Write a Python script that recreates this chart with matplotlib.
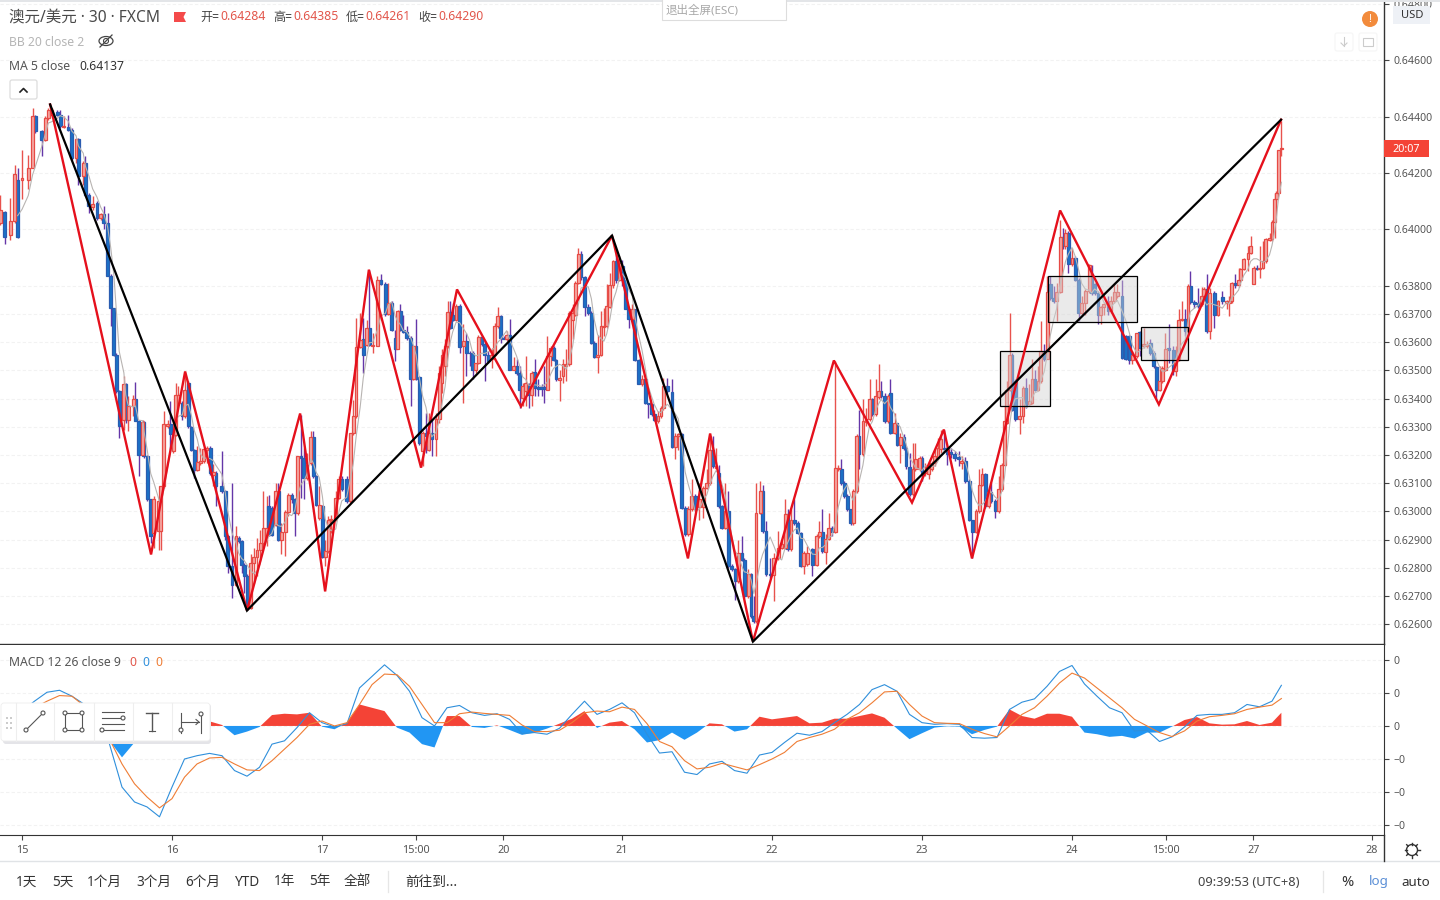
import numpy as np
import matplotlib
matplotlib.use('Agg')
import matplotlib.pyplot as plt
from matplotlib.patches import Rectangle, FancyBboxPatch, Circle, Ellipse, Polygon

plt.rcParams['font.family'] = ['Noto Sans', 'Noto Sans CJK SC', 'DejaVu Sans']

# candle values in price points (64400 = 0.64400), position in 30 min bars after the 15th
pos_a = [-7.0,-5.6,-3.8,-2.3,-1.4,0,2.0,3.4,4.3,6.3,
7.4,8.4,9.5,11.3,12.2,13.4,14.8,15.9,17.3,18.0,
19.6,20.3,21.4,22.6,24.0,25.2,26.1,27.4,28.4,29.4,
30.2,31.1,32.6,33.2,34.0,35.6,36.3,37.3,38.6,39.0,
40.1,41.2,42.2,43.7,44.4,45.4,46.6,47.4,48.4,49.2,
50.0,51.3,52.0,53.2,54.2,55.1,56.1,57.1,58.1,59.1,
60.2,61.2,62.1,63.9,65.0,65.8,67.2,68.5,69.3,70.3,
71.1,72.1,73.2,74.2,75.2,76.2,77.2,78.3,78.9,79.9,
81.2,82.0,83.0,84.2,85.2,86.3,87.3,88.2,89.3,90.2,
91.2,92.4,93.2,94.1,95.1,96.1,97.0,98.0,98.8,100.4,
101.3,102.3,103.9,105.0,106.0,106.9,108.2,109.2,110.3,111.1,
112.2,113.7,114.8,116.3,117.2,118.3,119.4,120.2,121.1,122.0,
123.1,124.4,125.2,126.1,127.1,128.2,129.3,130.2]
dirs_a = "RBRRBRRRBB RRRBBRBBRB RBBRBRBBBB BBRBRRBBRB BBRRRRRBRR RBRBBBRRRR BRBBBBBRBB BBRRRRRRBB RBRRRBBRBB RRBBRBRRRR RBBRRRRBRB RRBBRBBRBB BBRBBRBR"
top_a = [64070,64060,64029,64198,64176,64181,64218,64401,64401,64348,
64395,64425,64425,64415,64407,64368,64363,64354,64321,64321,
64235,64235,64123,64091,64094,64055,64055,64023,63834,63721,
63556,63426,63452,63452,63373,63399,63399,63319,63316,63316,
63198,63042,63042,63036,63089,63308,63311,63308,63272,63414,
63414,63384,63432,63455,63298,63219,63174,63178,63221,63225,
63225,63139,63136,63091,63071,62912,62805,62912,62906,62894,
62811,62770,62817,62838,62864,62888,62941,62941,63020,63012,
63071,63071,62926,62997,63059,63059,63042,63195,63195,63189,
63166,63264,63264,63124,63024,63020,62858,62968,62973,63048,
63115,63115,63115,63278,63337,63583,63609,63611,63650,63650,
63591,63822,63822,63808,63739,63739,63615,63709,63709,63644,
63636,63615,63585,63585,63477,63278,63278,63278]
bot_a = [64023,63973,63981,64029,63973,64174,64176,64218,64348,64316,
64318,64395,64407,64407,64365,64363,64354,64253,64253,64188,
64188,64123,64082,64079,64040,64040,64023,63834,63721,63556,
63426,63302,63325,63325,63325,63373,63319,63201,63201,63198,
63042,62912,62923,62929,62929,63089,63302,63274,63213,63272,
63384,63337,63337,63302,63219,63148,63148,63172,63178,63219,
63136,63130,63091,63071,62912,62805,62740,62740,62894,62811,
62770,62657,62657,62817,62838,62864,62888,62912,62917,62917,
62953,62900,62900,62926,62997,63042,62994,62994,63189,63118,
63118,63172,63124,63024,62977,62838,62838,62858,62968,62973,
63048,63079,63036,63036,63278,63337,63583,63556,63591,63591,
63585,63588,63808,63701,63701,63644,63576,63576,63644,63636,
63615,63469,63469,63469,63243,63213,63266,63219]
high_a = [64123,64064,64111,64230,64218,64283,64265,64430,64407,64354,
64401,64430,64430,64425,64425,64401,64407,64360,64324,64324,
64241,64259,64129,64117,64099,64058,64082,64058,63840,63721,
63562,63432,63479,63455,63408,63414,63458,63325,63325,63319,
63201,63042,63053,63053,63089,63355,63325,63390,63325,63455,
63443,63390,63479,63461,63302,63221,63231,63225,63225,63231,
63231,63169,63142,63213,63077,62917,63101,62947,62912,62900,
62817,62776,62847,62870,62906,62935,63071,63053,63059,63018,
63101,63101,62959,63006,63065,63065,63048,63195,63343,63225,
63207,63284,63284,63130,63089,63024,62900,62983,62988,63071,
63124,63124,63124,63278,63396,63686,63703,63686,63680,63857,
63633,63834,63840,63812,63810,63745,63644,63715,63737,63698,
63656,63621,63591,63682,63479,63284,63349,63349]
low_a = [64017,63949,63964,64023,63969,64108,64143,64218,64342,64259,
64312,64389,64401,64401,64360,64360,64348,64247,64235,64159,
64159,64117,64058,64070,64034,64034,64000,63834,63656,63550,
63420,63260,63290,63313,63284,63337,63319,63124,63195,63189,
63036,62888,62870,62864,62864,63083,63296,63219,63207,63266,
63378,63325,63331,63296,63213,63118,63142,63166,63172,63172,
63130,63089,63018,63065,62900,62782,62693,62734,62888,62782,
62711,62652,62652,62746,62770,62829,62870,62876,62912,62912,
62947,62894,62847,62841,62983,63030,62912,62988,63048,63042,
63112,63166,63118,63018,62971,62835,62805,62852,62923,62965,
63042,63071,63030,63030,63272,63331,63579,63491,63585,63585,
63562,63585,63804,63692,63698,63639,63532,63574,63639,63633,
63609,63373,63467,63467,63237,63160,63207,63213]

pos_b = [131.1,132.5,133.5,134.4,135.4,136.2,137.0,137.8,138.9,140.0,
141.2,142.2,143.2,144.2,145.2,146.0,147.1,148.1,149.2,150.3,
151.2,152.2,153.2,154.2,155.1,156.0,157.4,158.3,159.3,160.2,
161.2,162.1,163.1,164.1,165.2,166.3,167.1,168.1,169.2,170.1,
170.9,172.0,173.1,174.1,175.1,176.2,177.1,178.0,178.9,180.0,
181.2,182.2,183.1,184.2,185.3,186.2,187.1,188.1,189.1,190.1,
191.1,192.1,193.2,194.2,195.3,196.0,197.4,198.4,199.4,200.4,
201.5,202.3,203.5,204.5,205.2,206.5,208.0,209.0,210.0,211.1,
212.2,213.2,214.3,215.4,216.7,218.0,219.1,220.0,221.0,222.1,
222.9,223.9,225.0,226.0,227.1,228.2,229.2,230.3,231.1,232.4,
233.3,234.2,234.9,236.2,237.0,238.1,239.4,240.6,242.0,243.1,
244.2,245.0,246.1,247.1,248.2,249.2,250.2,251.3,252.9,254.3,
255.1,256.1,257.2,258.1,259.1,260.2,261.2,262.2,263.1,264.1,
265.2,266.0,267.1,267.8]
dirs_b = "BRRRRRBBRB RBBBRRBBBR RRBBRBRBBR RBRBBBBRRB BRRRRRRRBB BBBRRRRRRB RBBBRBBRBB BBRRRBBRRB BRRBRRRRBR BBRBBBRBBR BBRRBBBRRR RBRBBBRRBR RBRRBRRBBB BRRB"
top_b = [63279,63328,63491,63556,63586,63706,63706,63698,63728,63730,
63604,63604,63562,63562,63527,63619,63619,63595,63556,63556,
63657,63692,63692,63615,63627,63624,63515,63515,63491,63444,
63456,63453,63491,63494,63440,63442,63442,63550,63580,63580,
63536,63474,63521,63521,63704,63704,63810,63911,63911,63832,
63725,63704,63598,63556,63657,63657,63728,63801,63887,63887,
63881,63870,63822,63718,63716,63716,63536,63470,63470,63383,
63379,63344,63338,63367,63446,63446,63423,63267,63273,63273,
63013,63007,63056,63056,63044,63083,63101,63219,63219,63160,
63137,63018,63001,63001,62806,62794,62853,62853,62829,62776,
62776,62628,62995,63072,63072,62930,62776,62835,62871,62883,
62989,62989,62971,62971,62959,62922,62853,62853,62867,62912,
62926,62926,62903,62942,62942,63154,63154,63151,63101,63054,
63007,63072,63267,63267]
bot_b = [63255,63255,63326,63456,63515,63586,63651,63680,63680,63583,
63588,63562,63560,63503,63503,63527,63595,63556,63533,63539,
63556,63657,63615,63612,63612,63503,63503,63491,63432,63403,
63426,63414,63414,63438,63435,63435,63435,63432,63550,63536,
63468,63465,63479,63515,63521,63680,63698,63810,63832,63725,
63704,63598,63548,63548,63556,63654,63657,63725,63801,63820,
63820,63822,63718,63683,63683,63536,63453,63453,63383,63379,
63344,63323,63320,63338,63367,63426,63229,63229,63267,63013,
62918,62918,63007,63007,63016,63016,63083,63101,63160,63154,
63018,62942,62942,62806,62794,62753,62753,62829,62699,62699,
62628,62611,62611,62995,62930,62776,62773,62773,62835,62871,
62871,62865,62865,62959,62922,62806,62806,62812,62808,62808,
62912,62859,62855,62903,62926,62926,63151,63101,63054,63007,
62959,62959,63072,63202]
high_b = [63326,63349,63515,63574,63610,63745,63745,63739,63734,63734,
63663,63633,63568,63568,63527,63627,63621,63604,63568,63580,
63669,63725,63698,63621,63639,63683,63548,63539,63515,63456,
63550,63456,63497,63539,63468,63450,63515,63621,63588,63586,
63539,63503,63539,63574,63710,63734,63816,63935,63923,63834,
63734,63710,63604,63627,63710,63722,63805,63846,63893,63923,
63905,63893,63828,63722,63734,63718,63541,63485,63474,63385,
63379,63361,63355,63373,63474,63474,63470,63279,63279,63279,
63018,63018,63113,63063,63101,63089,63149,63267,63267,63225,
63166,63024,63101,63072,62812,62800,62900,62912,62835,62794,
62782,62699,63101,63107,63095,62965,62835,62853,62930,62900,
63042,63007,63007,63042,62965,62926,62859,62877,62871,62918,
62965,63007,62918,62995,62948,63533,63166,63184,63107,63060,
63009,63078,63273,63361]
low_b = [63196,63196,63314,63420,63479,63580,63645,63674,63674,63562,
63385,63479,63515,63468,63491,63521,63586,63462,63527,63509,
63550,63651,63598,63610,63604,63501,63501,63485,63367,63373,
63373,63367,63373,63409,63409,63409,63385,63430,63515,63533,
63462,63391,63456,63462,63515,63610,63692,63805,63822,63692,
63698,63592,63544,63489,63550,63621,63651,63722,63793,63810,
63816,63799,63716,63651,63680,63533,63450,63444,63379,63332,
63338,63320,63314,63332,63361,63420,63225,63184,63219,63007,
62912,62912,63001,63001,62971,62977,63078,63095,63154,63149,
63013,62936,62936,62800,62788,62687,62747,62823,62693,62693,
62623,62605,62605,62989,62924,62770,62764,62682,62829,62865,
62865,62859,62859,62953,62918,62803,62776,62806,62770,62806,
62906,62853,62812,62900,62912,62924,63143,63095,63048,63001,
62953,62953,63066,63149]

pos_c = [269.1,270.1,271.2,272.1,273.2,274.1,274.9,276.0,277.1,277.9,
279.2,280.0,281.0,282.1,282.9,284.0,285.1,285.8,287.2,288.0,
289.1,290.1,291.1,292.1,293.1,294.0,295.1,296.1,297.2,298.4,
299.7,300.7,301.9,303.1,304.1,305.3,306.3,307.2,308.2,309.3,
310.1,311.4,312.5,313.5,314.4,315.1,316.1,316.8,317.8,319.2,
320.3,321.2,322.3,323.2,324.1,325.1,326.0,327.1,328.1,329.0,
330.1,331.1,332.2,333.0,333.9,334.8,336.0,337.0,338.1,339.1,
340.2,341.5,342.3,343.2,344.3,345.2,346.2,347.5,348.4,349.5,
350.5,352.0,353.2,354.3,355.3,356.7,357.6,358.9,359.9,361.0,
362.1,363.0,364.0,364.9,365.8,366.9,368.4,369.2,370.2,371.1,
372.2,373.1,373.9,375.1,376.3,377.5,378.1,379.1,380.0,381.5,
382.7,384.1,385.5,386.3,387.1,388.2,389.3,389.9,391.0,392.3,
393.2,394.1,395.1,396.1,397.1,398.0,399.2,400.0,400.8,401.4,
402.0,403.0]
dirs_c = "RRRBRRBBRB RBRBBBRRRB RRRRRRBBBB BRBBBRRRBR BBRRRRRBBR RBRRBRRBRB BRRBRBRBBR RRBBBRRBRR RBBBRRBRRB BBRRRBBRRR BRBBBRRBRB RBRRRBRRRR RRBRRRRRRR RR"
top_c = [63320,63326,63399,63399,63409,63426,63426,63409,63409,63420,
63312,63312,63264,63264,63225,63157,63151,63186,63190,63190,
63143,63155,63172,63196,63225,63255,63225,63225,63210,63205,
63193,63178,63178,63107,62969,63001,63095,63131,63131,63068,
63068,63036,63078,63166,63320,63432,63556,63556,63462,63338,
63438,63438,63391,63468,63468,63462,63568,63565,63777,63808,
63757,63777,63974,63974,63988,63988,63899,63899,63822,63740,
63781,63872,63840,63805,63775,63725,63734,63730,63745,63777,
63777,63763,63621,63621,63556,63633,63636,63592,63595,63598,
63562,63511,63462,63509,63574,63578,63572,63539,63680,63683,
63683,63799,63799,63742,63740,63763,63789,63789,63775,63775,
63745,63761,63745,63745,63810,63810,63822,63860,63896,63917,
63941,63864,63864,63864,63887,63967,63970,64026,64106,64130,
64283,64290]
bot_c = [63202,63316,63326,63344,63344,63406,63409,63320,63320,63279,
63279,63237,63237,63225,63160,63060,63060,63149,63149,63137,
63137,63131,63149,63172,63190,63222,63222,63202,63205,63190,
63184,63172,63107,62969,62926,62926,63001,63095,63019,63019,
63036,63001,63001,63078,63166,63314,63432,63361,63326,63328,
63338,63373,63379,63385,63432,63432,63462,63541,63541,63757,
63745,63745,63777,63941,63941,63876,63876,63822,63704,63704,
63740,63781,63775,63775,63698,63698,63725,63710,63710,63745,
63763,63545,63541,63536,63536,63550,63580,63586,63586,63562,
63515,63430,63430,63462,63503,63572,63497,63497,63539,63678,
63639,63639,63742,63737,63730,63734,63763,63639,63639,63698,
63698,63745,63740,63740,63745,63801,63801,63822,63860,63896,
63917,63808,63861,63860,63864,63887,63964,63967,64026,64106,
64130,64284]
high_c = [63397,63367,63468,63403,63468,63521,63462,63420,63415,63468,
63350,63314,63279,63273,63231,63208,63243,63243,63196,63196,
63172,63172,63178,63220,63261,63290,63290,63231,63225,63214,
63214,63196,63193,63113,62971,63007,63149,63154,63137,63078,
63101,63042,63125,63172,63373,63462,63704,63562,63468,63397,
63444,63474,63450,63539,63503,63515,63675,63592,63836,63834,
63799,63810,64035,64006,64000,63994,63935,63905,63828,63763,
63787,63876,63872,63810,63781,63728,63740,63763,63763,63805,
63805,63822,63627,63627,63568,63633,63639,63651,63604,63610,
63568,63517,63515,63515,63633,63663,63586,63586,63716,63745,
63716,63805,63852,63751,63793,63796,63796,63840,63793,63781,
63751,63781,63751,63763,63813,63840,63864,63864,63899,63941,
63976,63870,63872,63941,63958,63970,63988,64035,64130,64137,
64283,64385]
low_c = [63196,63302,63320,63338,63338,63397,63403,63314,63314,63273,
63273,63231,63172,63219,63149,63054,63054,63143,63143,63107,
63125,63113,63143,63160,63184,63208,63214,63166,63190,63178,
63160,63149,63101,62965,62835,62924,62995,63089,63013,63013,
63030,62977,62995,63072,63160,63308,63426,63355,63320,63273,
63314,63367,63373,63379,63426,63426,63456,63533,63539,63751,
63740,63675,63775,63929,63929,63846,63870,63816,63675,63698,
63698,63775,63769,63769,63663,63663,63698,63698,63704,63740,
63757,63539,63536,63521,63521,63545,63550,63580,63580,63556,
63509,63397,63426,63456,63497,63527,63485,63480,63533,63675,
63621,63633,63737,63722,63722,63728,63757,63633,63610,63651,
63692,63734,63716,63692,63740,63793,63796,63816,63855,63852,
63911,63805,63855,63828,63858,63881,63958,63958,63970,64095,
64120,64261]

# zigzag pivots drawn on the chart
red_pos = [9,41.3,52.2,72,89,97,111,127.7,139.2,159.7,188.8,213.1,220.2,233.9,259.8,284.8,295,304,332.2,363.8,402.9]
red_pts = [64443,62847,63496,62648,63347,62716,63857,63155,63787,63372,63978,62833,63276,62538,63535,63031,63290,62833,64067,63379,64389]
black_pos = [9,72,188.8,233.9,402.9]
black_pts = [64443,62648,63978,62538,64389]
box_left = [313,328.3,358]
box_right = [329,356.8,373]
box_low = [63372,63673,63538]
box_high = [63567,63836,63655]

# MACD panel, values in price points, read every 4 bars
macd_line = [45,75,102,108,90,65,30,-55,-185,-230,-245,-275,-185,-100,-90,-83,-90,-135,-152,-125,
-55,-45,-5,40,10,-3,7,115,150,185,153,105,25,0,55,62,40,
32,37,20,-23,-20,-25,-7,35,75,35,50,70,40,-25,-82,-78,-140,-147,-115,-107,
-135,-143,-88,-80,-50,-22,-28,-17,10,35,65,110,125,105,35,10,5,7,5,-35,
-37,-35,50,72,82,120,165,183,127,90,55,40,-15,-13,-47,-33,-3,32,35,35,40,65,58,75,123]
signal_line = [40,55,75,92,90,60,20,-40,-115,-175,-215,-248,-220,-155,-115,-97,-95,-115,-133,-135,
-105,-70,-35,5,15,0,10,65,125,157,155,120,65,10,10,37,42,
38,35,32,3,-17,-17,-13,10,40,45,43,57,50,7,-47,-63,-105,-130,-125,-113,
-123,-133,-117,-100,-80,-47,-35,-25,-10,20,40,70,103,105,65,30,10,8,7,-10,
-23,-33,0,35,55,90,130,160,145,115,85,55,20,0,-20,-32,-15,15,28,32,37,50,57,63,83]
macd_hist = [10,20,25,20,15,5,-10,-45,-95,-50,-20,-27,35,55,25,14,3,-28,-17,-3,
33,37,35,40,-2,-10,10,65,55,45,-5,-20,-55,-65,30,30,-3,
-6,2,-12,-27,-20,-8,7,22,45,-6,10,15,-10,-50,-43,-20,-42,-20,8,5,
-17,-10,28,20,25,30,8,10,22,22,30,38,25,-8,-40,-22,-5,-1,-2,-25,
-12,-2,50,30,22,37,37,28,-20,-25,-33,-30,-38,-20,-20,-2,18,27,8,4,5,15,3,10,40]

price_ticks = [64800,64600,64400,64200,64000,63800,63700,63600,63500,63400,63300,63200,63100,63000,62900,62800,62700,62600]
macd_ticks = [200,100,0,-100,-200,-300]
macd_labels = ['0','0','0','−0','−0','−0']
time_ticks = [0,48,96,126,154,192,240,288,336,366,394,432]
time_labels = ['15','16','17','15:00','20','21','22','23','24','15:00','27','28']

pos = np.array(pos_a + pos_b + pos_c)
tops = np.array(top_a + top_b + top_c) / 1e5
bots = np.array(bot_a + bot_b + bot_c) / 1e5
highs = np.array(high_a + high_b + high_c) / 1e5
lows = np.array(low_a + low_b + low_c) / 1e5
dirs = (dirs_a + dirs_b + dirs_c).replace(' ', '')
up = np.array([d == 'R' for d in dirs])
closes = np.where(up, tops, bots)
ma5 = np.convolve(closes, np.ones(5) / 5, mode='valid')

W, H = 1440, 900
GREY = '#555555'
fig = plt.figure(figsize=(14.4, 9), dpi=100)
ax = fig.add_axes([0, (H - 644) / H, 1384 / W, 644 / H])
ax2 = fig.add_axes([0, (H - 835) / H, 1384 / W, 190 / H])

xlim = (-7.04, 435.84)
ax.set_xlim(*xlim)
ax.set_ylim(0.625295, 0.648135)
ax2.set_xlim(*xlim)
ax2.set_ylim(-330, 245)

# candles
bw = 0.9
ax.vlines(pos[~up], lows[~up], highs[~up], color='#6436a8', lw=1.0, zorder=2)
ax.bar(pos[~up], tops[~up] - bots[~up], bw, bottom=bots[~up], color='#1a72c8', edgecolor='#2a5cb0', lw=0.9, zorder=3)
ax.vlines(pos[up], lows[up], highs[up], color='#e8524d', lw=1.0, zorder=2)
ax.bar(pos[up], tops[up] - bots[up], bw, bottom=bots[up], color='#f6aaa4', edgecolor='#e64a45', lw=0.9, zorder=3)
ax.plot(pos[4:], ma5, color='#b8b4b2', lw=0.8, zorder=4)

for l, r, b, t in zip(box_left, box_right, box_low, box_high):
    ax.add_patch(Rectangle((l, b / 1e5), r - l, (t - b) / 1e5, facecolor=(0.82, 0.82, 0.82, 0.45),
                           edgecolor='black', lw=0.9, zorder=5))
ax.plot(red_pos, np.array(red_pts) / 1e5, color='#e5101c', lw=1.7, zorder=6, clip_on=False, solid_joinstyle='miter')
ax.plot(black_pos, np.array(black_pts) / 1e5, color='black', lw=1.6, zorder=7, clip_on=False, solid_joinstyle='miter')

ax.set_yticks(np.array(price_ticks) / 1e5)
ax.set_yticklabels([f'{p / 1e5:.5f}' for p in price_ticks])
ax.set_xticks([])
ax.yaxis.tick_right()
ax.tick_params(axis='y', length=3.5, width=0.8, color='#444444', labelcolor=GREY, labelsize=7.6, pad=3.5)
ax.grid(axis='y', color='#f2f2f2', lw=0.8, ls=(0, (3, 2)))
ax.set_axisbelow(True)
for s in ['top', 'left']:
    ax.spines[s].set_visible(False)
ax.spines['right'].set_color('#333333')
ax.spines['bottom'].set_color('#333333')
ax.spines['right'].set_linewidth(1)
ax.spines['bottom'].set_linewidth(1)

# macd panel
macd_pos = np.r_[np.arange(0, 401, 4), 403]
hist = np.array(macd_hist)
ax2.fill_between(macd_pos, 0, hist, where=hist >= 0, interpolate=True, color='#f44336', lw=0, zorder=2)
ax2.fill_between(macd_pos, 0, hist, where=hist <= 0, interpolate=True, color='#2196f3', lw=0, zorder=2)
ax2.plot(macd_pos, macd_line, color='#2f8fdb', lw=0.8, zorder=3)
ax2.plot(macd_pos, signal_line, color='#ef7d35', lw=0.8, zorder=3)
ax2.set_yticks(macd_ticks)
ax2.set_yticklabels(macd_labels)
ax2.yaxis.tick_right()
ax2.set_xticks(time_ticks)
ax2.set_xticklabels(time_labels)
ax2.tick_params(axis='y', length=3.5, width=0.8, color='#444444', labelcolor=GREY, labelsize=7.6, pad=3.5)
ax2.tick_params(axis='x', length=3.5, width=0.8, color='#444444', labelcolor=GREY, labelsize=7.8, pad=4)
ax2.grid(axis='y', color='#f2f2f2', lw=0.8, ls=(0, (3, 2)))
ax2.set_axisbelow(True)
for s in ['top', 'left']:
    ax2.spines[s].set_visible(False)
ax2.spines['right'].set_color('#333333')
ax2.spines['bottom'].set_color('#333333')

# everything around the panes, in screen coordinates
ov = fig.add_axes([0, 0, 1, 1], zorder=10)
ov.set_xlim(0, W)
ov.set_ylim(H, 0)
ov.axis('off')
ov.patch.set_alpha(0)


def txt(x, y, s, color='#444444', size=9, **kw):
    ov.text(x, y, s, color=color, fontsize=size, va='center', ha=kw.pop('ha', 'left'), **kw)


ov.add_patch(Rectangle((0, 0), W, 2, color='#e3e5e8', lw=0))
ov.add_patch(Rectangle((662, -2), 124, 22, facecolor='white', edgecolor='#dddddd', lw=0.8))
txt(666, 11, '退出全屏(ESC)', color='#a8a8a8', size=8.3)

txt(9, 18.5, '澳元/美元 · 30 · FXCM', size=11.2, color='#4a4a4a')
ov.add_patch(Polygon([(174, 12), (186, 12), (183.5, 17), (186, 22), (174, 22)], color='#f44a4a', lw=0))
for x0, x1, label, val in [(200, 220, '开=', '0.64284'), (273, 293, '高=', '0.64385'),
                           (346, 365, '低=', '0.64261'), (418, 438, '收=', '0.64290')]:
    txt(x0, 17, label, size=8.7)
    txt(x1, 17, val, color='#e2574c', size=8.8)
txt(9, 42.5, 'BB 20 close 2', color='#b5b5b5', size=8.8)
ov.add_patch(Ellipse((106, 41), 14, 9, fill=False, edgecolor='#444444', lw=0.9))
ov.add_patch(Circle((106, 41), 2.5, fill=False, edgecolor='#444444', lw=0.8))
ov.plot([100, 112], [47, 35], color='#444444', lw=0.9)
txt(9, 66, 'MA 5 close', color='#555555', size=8.8)
txt(79, 66, '0.64137', color='#333333', size=8.8)
ov.add_patch(FancyBboxPatch((10, 80), 27, 19, boxstyle='round,pad=0,rounding_size=2', facecolor='white',
                            edgecolor='#dddddd', lw=0.9))
ov.plot([20, 23.5, 27], [92, 88.5, 92], color='#222222', lw=1.2)

ov.add_patch(Circle((1370, 19), 8, color='#f28b3c', lw=0))
txt(1370, 19, '!', color='white', size=8, ha='center', fontweight='bold')
ov.add_patch(FancyBboxPatch((1335, 33), 18, 18, boxstyle='round,pad=0,rounding_size=2', facecolor='white',
                            edgecolor='#f5f5f5', lw=0.8))
ov.add_patch(FancyBboxPatch((1359, 33), 18, 18, boxstyle='round,pad=0,rounding_size=2', facecolor='white',
                            edgecolor='#f5f5f5', lw=0.8))
ov.plot([1344, 1344], [37, 46], color='#cccccc', lw=0.8)
ov.plot([1341, 1344, 1347], [43, 46, 43], color='#cccccc', lw=0.8)
ov.add_patch(Rectangle((1363, 38), 10, 8, fill=False, edgecolor='#cccccc', lw=0.8))

ov.add_patch(Rectangle((1393, 6), 37, 18, color='#eef1f6', lw=0))
txt(1412, 15, 'USD', color='#333333', size=8, ha='center')
ov.add_patch(Rectangle((1384, 140), 45, 17, color='#f44336', lw=0))
txt(1406, 149, '20:07', color='white', size=7.8, ha='center', fontweight='bold')

txt(9, 662.5, 'MACD 12 26 close 9', color='#555555', size=8.8)
for x, col in [(133, '#e2574c'), (146, '#2f8fdb'), (159, '#ef7d35')]:
    txt(x, 662.5, '0', color=col, size=8.8, ha='center')

# drawing toolbar
ov.add_patch(FancyBboxPatch((3, 704), 208, 40, boxstyle='round,pad=0,rounding_size=3', facecolor='#e4e4e8',
                            edgecolor='none'))
ov.add_patch(FancyBboxPatch((1, 703), 209, 38, boxstyle='round,pad=0,rounding_size=3', facecolor='white',
                            edgecolor='#eeeeee', lw=0.6))
for x in [16, 54, 94, 133, 172]:
    ov.plot([x, x], [703, 741], color='#eeeeee', lw=0.8)
for x in [6, 10]:
    for y in [717, 722, 727]:
        ov.add_patch(Rectangle((x, y), 2, 2, color='#cccccc', lw=0))
ic = '#555555'


def dot(x, y):
    ov.add_patch(Circle((x, y), 2, facecolor='white', edgecolor=ic, lw=0.8, zorder=12))


ov.plot([26, 43], [730, 713], color=ic, lw=0.8)
dot(26, 730)
dot(43, 713)
ov.add_patch(Rectangle((65, 713), 17, 17, fill=False, edgecolor=ic, lw=0.8))
for p in [(65, 713), (82, 713), (65, 730), (82, 730)]:
    dot(*p)
for y in [712, 718, 724, 730]:
    ov.plot([102, 124], [y, y], color=ic, lw=0.8)
dot(123, 718)
dot(102, 730)
ov.plot([146, 158], [713, 713], color=ic, lw=1)
ov.plot([152, 152], [713, 731], color=ic, lw=1)
ov.plot([149, 155], [731, 731], color=ic, lw=0.8)
ov.plot([181, 181], [713, 733], color=ic, lw=0.8)
ov.plot([201, 201], [713, 733], color=ic, lw=0.8)
ov.plot([181, 199], [722, 722], color=ic, lw=0.8)
ov.plot([196, 199, 196], [719.5, 722, 724.5], color=ic, lw=0.8)
dot(181, 730)
dot(201, 714)

# bottom bar
ov.plot([0, W], [861, 861], color='#e0e3e6', lw=1)
ov.plot([1384, 1384], [835, 861], color='#333333', lw=1)
for x, s in [(16, '1天'), (52, '5天'), (87, '1个月'), (136, '3个月'), (185, '6个月'), (235, 'YTD'),
             (274, '1年'), (309, '5年'), (344, '全部'), (405, '前往到...')]:
    txt(x, 882, s, color='#333333', size=9.8)
ov.plot([388, 388], [871, 892], color='#e6e6e6', lw=0.9)
txt(1198, 882, '09:39:53 (UTC+8)', color='#444444', size=9.3)
ov.plot([1323, 1323], [871, 892], color='#e6e6e6', lw=0.9)
txt(1341, 882, '%', color='#333333', size=10.5)
txt(1369, 882, 'log', color='#5b8fd6', size=9.6)
txt(1401, 882, 'auto', color='#333333', size=9.6)
ov.add_patch(Circle((1412, 850), 5.5, fill=False, edgecolor='#333333', lw=1))
for a in np.arange(0, 360, 45):
    c, s = np.cos(np.radians(a)), np.sin(np.radians(a))
    ov.plot([1412 + 5.5 * c, 1412 + 7.5 * c], [850 + 5.5 * s, 850 + 7.5 * s], color='#333333', lw=1)

fig.savefig('out.png', dpi=100, facecolor='white')
